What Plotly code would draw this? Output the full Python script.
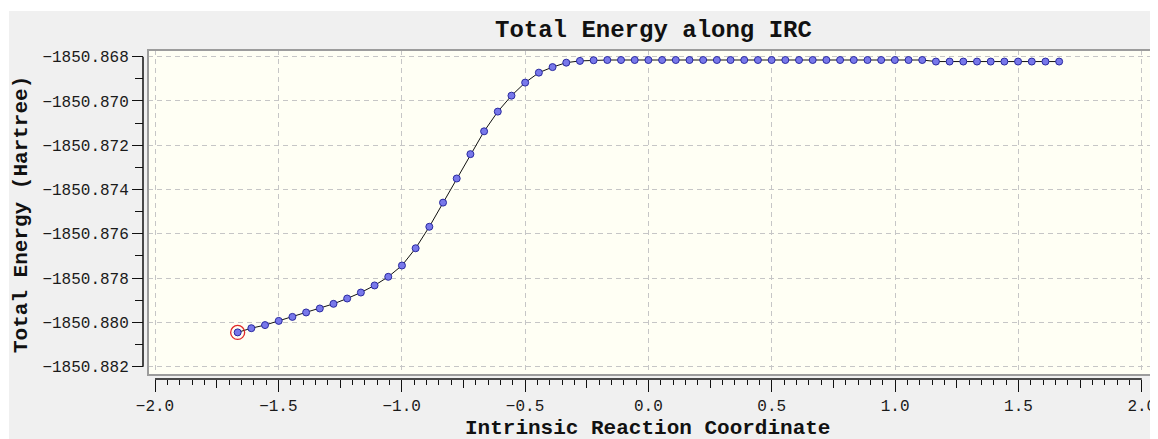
import plotly.graph_objects as go

# ---- data ----
irc_x = [-1.665, -1.6095, -1.554, -1.4985, -1.443, -1.3875, -1.332, -1.2765, -1.221, -1.1655,
         -1.11, -1.0545, -0.999, -0.9435, -0.888, -0.8325, -0.777, -0.7215, -0.666, -0.6105,
         -0.555, -0.4995, -0.444, -0.3885, -0.333, -0.2775, -0.222, -0.1665, -0.111, -0.0555,
         0.0, 0.0555, 0.111, 0.1665, 0.222, 0.2775, 0.333, 0.3885, 0.444, 0.4995,
         0.555, 0.6105, 0.666, 0.7215, 0.777, 0.8325, 0.888, 0.9435, 0.999, 1.0545,
         1.11, 1.1655, 1.221, 1.2765, 1.332, 1.3875, 1.443, 1.4985, 1.554, 1.6095, 1.665]

energy = [-1850.88045, -1850.88026, -1850.88012, -1850.87993, -1850.87975, -1850.87955,
          -1850.87937, -1850.87916, -1850.87892, -1850.87865, -1850.87833, -1850.87794,
          -1850.87743, -1850.87665, -1850.87568, -1850.87459, -1850.87350, -1850.87240,
          -1850.87137, -1850.87048, -1850.86976, -1850.86917, -1850.86872, -1850.86847,
          -1850.86827, -1850.86819, -1850.86816, -1850.86815, -1850.86815, -1850.86815,
          -1850.86815, -1850.86815, -1850.86815, -1850.86815, -1850.86815, -1850.86815,
          -1850.86815, -1850.86815, -1850.86815, -1850.86815, -1850.86815, -1850.86815,
          -1850.86815, -1850.86815, -1850.86815, -1850.86815, -1850.86815, -1850.86815,
          -1850.86815, -1850.86815, -1850.86815, -1850.86822, -1850.86822, -1850.86822,
          -1850.86822, -1850.86822, -1850.86822, -1850.86822, -1850.86822, -1850.86822,
          -1850.86822]

highlight_index = 0  # point circled in red

x_axis_span = [-2.0, 2.0]
y_axis_span = [-1850.882, -1850.868]

chart_title = "Total Energy along IRC"
x_title = "Intrinsic Reaction Coordinate"
y_title = "Total Energy (Hartree)"

# ---- layout geometry (page body has an 8px margin) ----
OFF = 8
W, H = 1158 - OFF, 439 - OFF
ML, MR, MT, MB = 143 - OFF, 0, 50 - OFF, 60
PW = W - ML - MR
PH = H - MT - MB


def px_x(p):
    """screen x pixel -> paper x"""
    return (p - OFF - ML) / PW


def px_y(p):
    """screen y pixel -> paper y"""
    return 1 - (p - OFF - MT) / PH


FONT = "Liberation Mono"

fig = go.Figure()

fig.add_trace(go.Scatter(
    x=irc_x, y=energy, mode="lines+markers",
    line=dict(color="#111111", width=1),
    marker=dict(size=7, color="#7878EA", line=dict(color="#2A2AA0", width=1)),
    showlegend=False, hoverinfo="x+y",
))

fig.add_trace(go.Scatter(
    x=[irc_x[highlight_index]], y=[energy[highlight_index]], mode="markers",
    marker=dict(size=14, symbol="circle-open", color="#E02828", line=dict(color="#E02828", width=1.3)),
    showlegend=False, hoverinfo="skip",
))

# empty trace so the secondary (mid-tick) x axis is drawn
fig.add_trace(go.Scatter(x=[], y=[], xaxis="x2", showlegend=False, hoverinfo="skip"))

x_range = [-2.0284, 2.0657]
y_range = [-1850.882374, -1850.867698]

fig.update_layout(
    width=W, height=H,
    margin=dict(l=ML, r=MR, t=MT, b=MB, pad=0),
    paper_bgcolor="#F0F0F0",
    plot_bgcolor="#FFFFF4",
    font=dict(family=FONT, size=16, color="#1a1a1a"),
    xaxis=dict(
        domain=[px_x(148), 1], range=x_range, anchor="free", position=0,
        tick0=-2.0, dtick=0.5, tickformat=".1f",
        ticks="outside", ticklen=12, tickwidth=1, tickcolor="#111111",
        showline=False,
        showgrid=True, gridcolor="#C6C6C6", gridwidth=1, griddash="5px,4px",
        zeroline=False,
        minor=dict(dtick=0.05, tick0=-2.0, ticks="outside", ticklen=5, tickcolor="#111111",
                   tickwidth=1, showgrid=False),
        tickfont=dict(family=FONT, size=16),
    ),
    xaxis2=dict(
        domain=[px_x(148), 1], range=x_range, anchor="free", position=0, overlaying="x",
        tick0=-2.0, dtick=0.25, ticks="outside", ticklen=8, tickwidth=1, tickcolor="#111111",
        showticklabels=False, showline=False, showgrid=False, zeroline=False,
    ),
    yaxis=dict(
        domain=[px_y(375), 1], range=y_range, anchor="free", position=0,
        tick0=-1850.882, dtick=0.002, tickformat=".3f",
        ticks="outside", ticklen=11, tickwidth=1, tickcolor="#111111",
        showline=False,
        showgrid=True, gridcolor="#C6C6C6", gridwidth=1, griddash="5px,4px",
        zeroline=False,
        minor=dict(dtick=0.001, tick0=-1850.882, ticks="outside", ticklen=8, tickcolor="#111111",
                   tickwidth=1, showgrid=False),
        tickfont=dict(family=FONT, size=16),
    ),
    shapes=[
        # plot-area frame
        dict(type="rect", xref="x domain", yref="y domain", x0=0, x1=1, y0=0, y1=1,
             line=dict(color="#9C9C9C", width=2), fillcolor="rgba(0,0,0,0)", layer="above"),
        # x axis line (spans the labelled range only)
        dict(type="line", xref="x", yref="paper", x0=x_axis_span[0], x1=x_axis_span[1], y0=0, y1=0,
             line=dict(color="#111111", width=1.5), layer="above"),
        # y axis line
        dict(type="line", xref="paper", yref="y", x0=0, x1=0, y0=y_axis_span[0], y1=y_axis_span[1],
             line=dict(color="#111111", width=1.5), layer="above"),
        # white page strips at top and left
        dict(type="rect", xref="paper", yref="paper", x0=px_x(OFF), x1=px_x(1158),
             y0=px_y(11), y1=px_y(OFF), line=dict(width=0), fillcolor="#FFFFFF", layer="above"),
        dict(type="rect", xref="paper", yref="paper", x0=px_x(OFF), x1=px_x(9),
             y0=px_y(439), y1=px_y(OFF), line=dict(width=0), fillcolor="#FFFFFF", layer="above"),
    ],
    annotations=[
        dict(text=chart_title, xref="paper", yref="paper", x=px_x(653), y=px_y(30),
             xanchor="center", yanchor="middle", showarrow=False,
             font=dict(family=FONT, size=24, color="#111111", weight="bold")),
        dict(text=x_title, xref="paper", yref="paper", x=px_x(647), y=px_y(428),
             xanchor="center", yanchor="middle", showarrow=False,
             font=dict(family=FONT, size=21, color="#111111", weight="bold")),
        dict(text=y_title, xref="paper", yref="paper", x=px_x(21), y=px_y(215),
             xanchor="center", yanchor="middle", showarrow=False, textangle=-90,
             font=dict(family=FONT, size=21, color="#111111", weight="bold")),
    ],
)

fig.write_html("out.html")
